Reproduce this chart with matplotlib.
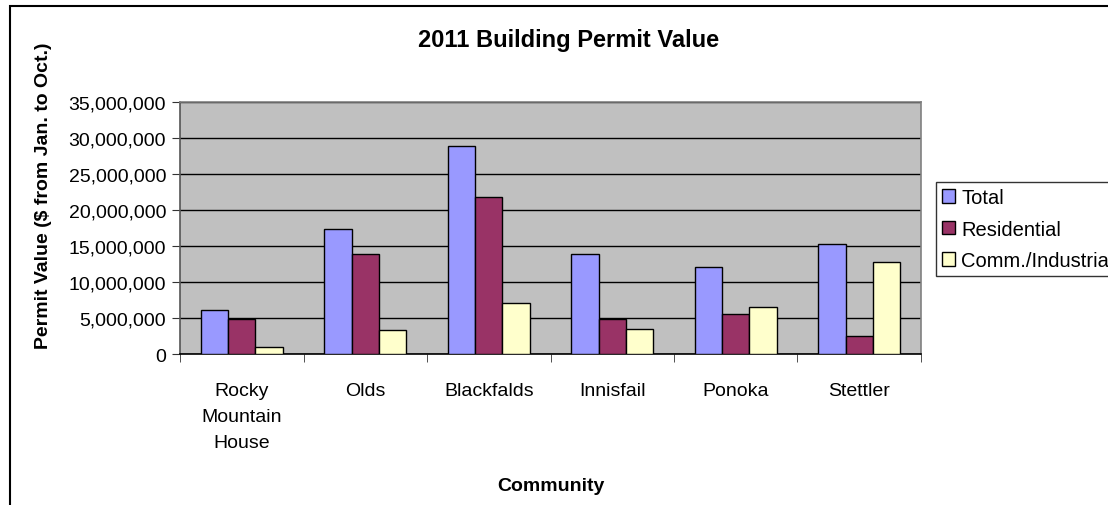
import matplotlib.pyplot as plt
import matplotlib.patches as patches
from matplotlib.ticker import FuncFormatter
import numpy as np

plt.rcParams['font.family'] = ['Liberation Sans', 'DejaVu Sans']

# permit values ($, Jan. to Oct. 2011)
communities = ['Rocky\nMountain\nHouse', 'Olds', 'Blackfalds', 'Innisfail', 'Ponoka', 'Stettler']
total = [6100000, 17300000, 28900000, 13950000, 12050000, 15350000]
residential = [4900000, 13950000, 21850000, 4900000, 5550000, 2550000]
commercial = [1060000, 3420000, 7070000, 3560000, 6560000, 12800000]
series_names = ['Total', 'Residential', 'Comm./Industrial']
colors = ['#9999FF', '#993366', '#FFFFCC']

W, H = 1108, 506
fig = plt.figure(figsize=(W / 100, H / 100), dpi=100)
fig.patch.set_facecolor('white')

# chart area border (runs off the right/bottom of the picture)
fig.patches.append(patches.Rectangle((10 / W, -0.1), 1.2, 1 - 7 / H + 0.1,
                                     transform=fig.transFigure, fill=False,
                                     edgecolor='black', lw=1.5, zorder=0))

ax = fig.add_axes([180 / W, 1 - 355.3 / H, (921 - 180) / W, (355.3 - 102.7) / H])
ax.set_facecolor('#C0C0C0')

x = np.arange(len(communities))
bw = 1 / 4.5
for i, (vals, name, c) in enumerate(zip([total, residential, commercial], series_names, colors)):
    ax.bar(x + (i - 1) * bw, vals, bw, color=c, edgecolor='black', lw=1.0,
           label=name, zorder=3)

ax.set_xlim(-0.5, len(communities) - 0.5)
ax.set_ylim(0, 35000000)
ax.set_yticks(np.arange(0, 35000001, 5000000))
ax.yaxis.set_major_formatter(FuncFormatter(lambda v, p: f'{int(v):,}'))
ax.grid(axis='y', color='black', lw=1, zorder=1)
ax.set_axisbelow(True)

ax.set_xticks(x)
ax.set_xticklabels(communities, fontsize=14, linespacing=1.68)
ax.set_xticks(np.arange(-0.5, len(communities)), minor=True)
ax.tick_params(axis='x', which='major', length=0, pad=20)
ax.tick_params(axis='x', which='minor', length=6, color='#333333', direction='out')
ax.tick_params(axis='y', labelsize=14, length=6, color='#333333', pad=4)

for s in ['top', 'right']:
    ax.spines[s].set_color('#808080')
ax.spines['left'].set_color('#555555')
ax.spines['bottom'].set_color('black')
for s in ax.spines.values():
    s.set_linewidth(1.2)

fig.text(569 / W, 1 - 41 / H, '2011 Building Permit Value', ha='center', va='center',
         fontsize=17, fontweight='bold')
fig.text(551 / W, 1 - 487 / H, 'Community', ha='center', va='center',
         fontsize=14, fontweight='bold')
fig.text(44 / W, 1 - 196 / H, 'Permit Value ($ from Jan. to Oct.)', ha='center', va='center',
         rotation=90, fontsize=14, fontweight='bold')

leg = fig.legend(loc='upper left', bbox_to_anchor=(936 / W, 1 - 183 / H),
                 fontsize=14.5, frameon=True, fancybox=False, edgecolor='black',
                 handlelength=0.65, handleheight=0.65, handletextpad=0.3,
                 labelspacing=0.62, borderpad=0.3, borderaxespad=0)
leg.get_frame().set_linewidth(1)

fig.savefig('out.png', dpi=100)
